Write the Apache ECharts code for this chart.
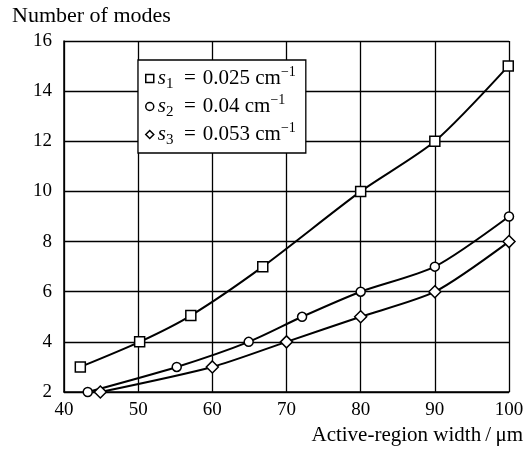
<!DOCTYPE html>
<html><head><meta charset="utf-8">
<script src="https://cdn.jsdelivr.net/npm/echarts@6/dist/echarts.min.js"></script>
<style>html,body{margin:0;padding:0;background:#fff}#c{width:532px;height:451px}</style>
</head><body><div id="c"></div>
<script>
var s1X = [42.2, 50.2, 57.1, 66.8, 80, 90, 99.9];
var s1Y = [3, 4, 5.05, 7, 10, 12, 15];
var s2X = [43.2, 55.2, 64.9, 72.1, 80, 90, 100];
var s2Y = [2, 3, 4, 5, 6, 7, 9];
var s3X = [44.9, 60, 70, 80, 90, 100];
var s3Y = [2, 3, 4, 5, 6, 8];
var seriesNames = ['s1', 's2', 's3'];
var legendLabels = {
  s1: '{i|s}{sub|1}{t|\u2002=\u20040.025 cm}{sup|−1}',
  s2: '{i|s}{sub|2}{t|\u2002=\u20040.04 cm}{sup|−1}',
  s3: '{i|s}{sub|3}{t|\u2002=\u20040.053 cm}{sup|−1}'
};
var yTitle = 'Number of modes';
var xTitle = 'Active-region width\u2009/\u2009μm';

function pairs(xs, ys) { return xs.map(function (x, i) { return [x, ys[i]]; }); }
var FONT = 'Liberation Serif';
var symStyle = { color: '#fff', borderColor: '#000', borderWidth: 1.5 };
function mk(name, xs, ys, sym, size) {
  return {
    name: name, type: 'line', data: pairs(xs, ys), smooth: 0.25,
    symbol: sym, symbolSize: size, showAllSymbol: true,
    lineStyle: { color: '#000', width: 2 },
    itemStyle: symStyle, color: '#000', z: 3
  };
}
var chart = echarts.init(document.getElementById('c'), null, { renderer: 'canvas' });
chart.setOption({
  animation: false,
  backgroundColor: '#fff',
  textStyle: { fontFamily: FONT, color: '#000' },
  title: { text: yTitle, left: 12, top: 5, padding: 0, textStyle: { fontFamily: FONT, fontSize: 22, fontWeight: 'normal', color: '#000' } },
  grid: { left: 64, right: 23, top: 41, bottom: 59 },
  legend: {
    orient: 'vertical', left: 138, top: 60,
    backgroundColor: '#fff', borderColor: '#000', borderWidth: 1.3,
    padding: [5, 10, 5, 7], itemGap: 1, itemWidth: 8, itemHeight: 8,
    data: [
      { name: 's1', icon: 'rect', itemStyle: symStyle },
      { name: 's2', icon: 'circle', itemStyle: symStyle },
      { name: 's3', icon: 'diamond', itemStyle: { color: '#fff', borderColor: '#000', borderWidth: 1.5 } }
    ],
    formatter: function (n) { return legendLabels[n]; },
    textStyle: {
      fontFamily: FONT, fontSize: 20, color: '#000', padding: [0, 0, 0, -1],
      rich: {
        i: { fontFamily: FONT, fontStyle: 'italic', fontSize: 21, lineHeight: 27 },
        t: { fontFamily: FONT, fontSize: 21, lineHeight: 27 },
        sub: { fontFamily: FONT, fontSize: 15, lineHeight: 14, verticalAlign: 'bottom' },
        sup: { fontFamily: FONT, fontSize: 14, lineHeight: 14, verticalAlign: 'top' }
      }
    }
  },
  xAxis: {
    type: 'value', min: 40, max: 100, interval: 10,
    name: xTitle, nameLocation: 'end', nameGap: 14,
    nameTextStyle: { fontFamily: FONT, fontSize: 21, color: '#000', align: 'right', verticalAlign: 'top', padding: [33, 0, 0, 0] },
    axisLine: { lineStyle: { color: '#000', width: 1.5 } },
    axisTick: { show: false },
    axisLabel: { fontFamily: FONT, fontSize: 19, color: '#000', margin: 9 },
    splitLine: { show: true, lineStyle: { color: '#000', width: 1.3 } }
  },
  yAxis: {
    type: 'value', min: 2, max: 16, interval: 2,
    axisLine: { show: true, lineStyle: { color: '#000', width: 1.5 } },
    axisTick: { show: false },
    axisLabel: { fontFamily: FONT, fontSize: 19, color: '#000', margin: 12 },
    splitLine: { show: true, lineStyle: { color: '#000', width: 1.3 } }
  },
  series: [
    mk('s1', s1X, s1Y, 'rect', 10),
    mk('s2', s2X, s2Y, 'circle', 9),
    mk('s3', s3X, s3Y, 'diamond', 12)
  ]
});
</script></body></html>
